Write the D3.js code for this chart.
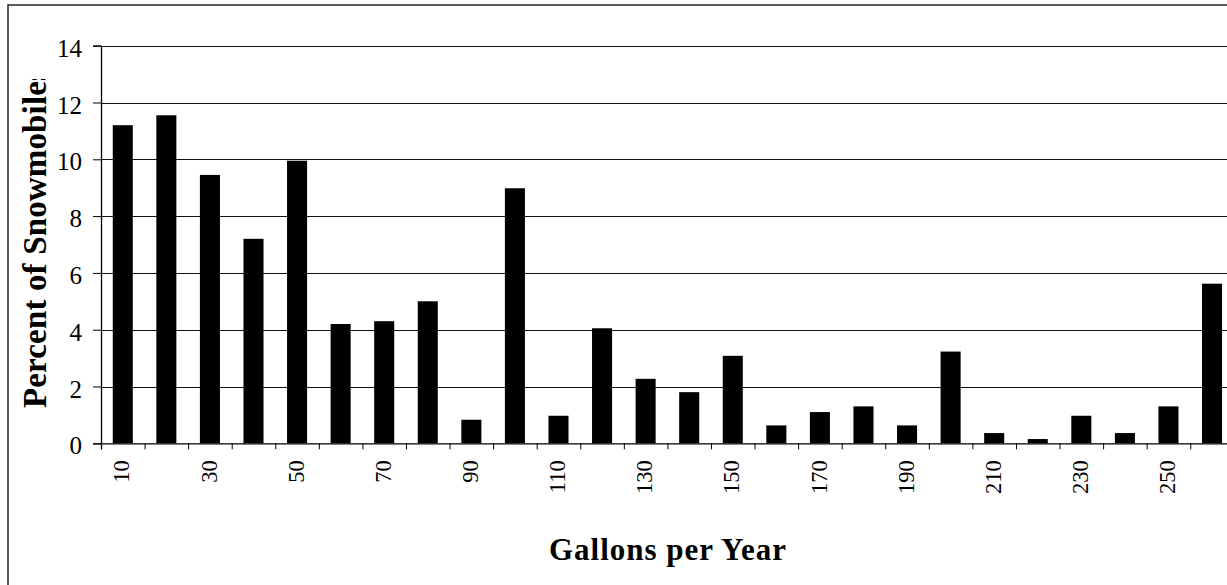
<!DOCTYPE html>
<html>
<head>
<meta charset="utf-8">
<script src="https://cdn.jsdelivr.net/npm/d3@7"></script>
<style>
  body { margin: 0; background: #fff; }
  svg { display: block; font-family: "Liberation Serif", "Times New Roman", serif; }
</style>
</head>
<body>
<svg width="1227" height="585"></svg>
<script>
const categories = [10, 20, 30, 40, 50, 60, 70, 80, 90, 100, 110, 120, 130,
                    140, 150, 160, 170, 180, 190, 200, 210, 220, 230, 240, 250, 260];
const percents = [11.2, 11.55, 9.45, 7.2, 9.95, 4.2, 4.3, 5.0, 0.83, 8.98, 0.97, 4.05, 2.27,
                  1.8, 3.08, 0.63, 1.1, 1.3, 0.63, 3.23, 0.36, 0.15, 0.97, 0.36, 1.3, 5.62];
const yTicks = [0, 2, 4, 6, 8, 10, 12, 14];
const xLabels = categories.filter((d, i) => i % 2 === 0);

const svg = d3.select("svg");
const serif = "'Liberation Serif', 'Times New Roman', serif";
const plotLeft = 101, plotTop = 45.7, plotBottom = 443.3, step = 43.57;
const plotRight = plotLeft + step * categories.length;

// outer chart border (runs past the window on the right and bottom)
svg.append("rect")
    .attr("x", 8).attr("y", 5)
    .attr("width", 1240).attr("height", 600)
    .attr("fill", "none")
    .attr("stroke", "#333")
    .attr("stroke-width", 1.6);

const x = d3.scaleBand()
    .domain(categories)
    .range([plotLeft, plotRight])
    .paddingInner(0.54)
    .paddingOuter(0.27);

const xTick = d3.scaleLinear()
    .domain([0, categories.length])
    .range([plotLeft, plotRight]);

const y = d3.scaleLinear()
    .domain([0, 14])
    .range([plotBottom, plotTop]);

// gridlines
svg.append("g")
    .selectAll("line")
    .data(yTicks.filter(d => d > 0))
    .join("line")
    .attr("x1", plotLeft).attr("x2", plotRight)
    .attr("y1", d => Math.round(y(d)) + 0.5)
    .attr("y2", d => Math.round(y(d)) + 0.5)
    .attr("stroke", "#111")
    .attr("stroke-width", 1);

// bars
svg.append("g")
    .selectAll("rect")
    .data(percents)
    .join("rect")
    .attr("x", (d, i) => x(categories[i]))
    .attr("y", d => y(d))
    .attr("width", x.bandwidth())
    .attr("height", d => plotBottom - y(d))
    .attr("fill", "#000");

// y axis
const yAxis = svg.append("g")
    .attr("transform", `translate(${plotLeft},0)`)
    .call(d3.axisLeft(y).tickValues(yTicks).tickSize(8).tickPadding(11).tickFormat(d3.format("d")))
    .attr("font-family", serif);
yAxis.select(".domain").attr("stroke", "#000").attr("stroke-width", 1.3);
yAxis.selectAll(".tick line").attr("stroke", "#000");
yAxis.selectAll("text")
    .attr("font-size", 25)
    .attr("fill", "#000")
    .attr("dy", "0.42em");

// x axis: ticks between categories
const xAxis = svg.append("g")
    .attr("transform", `translate(0,${plotBottom})`)
    .call(d3.axisBottom(xTick).tickValues(d3.range(0, categories.length + 1)).tickSize(6).tickFormat(""));
xAxis.select(".domain").attr("stroke", "#000").attr("stroke-width", 1.3);
xAxis.selectAll(".tick line").attr("stroke", "#000");

// x labels, every other category, rotated
svg.append("g")
    .selectAll("text")
    .data(xLabels)
    .join("text")
    .attr("transform", d => `translate(${x(d) + x.bandwidth() / 2 - 1},${plotBottom + 17}) rotate(-90)`)
    .attr("text-anchor", "end")
    .attr("dy", "0.34em")
    .attr("font-size", 22.5)
    .attr("fill", "#000")
    .text(d => d);

// axis titles
svg.append("text")
    .attr("x", 668).attr("y", 560)
    .attr("text-anchor", "middle")
    .attr("font-size", 31)
    .attr("font-weight", "bold")
    .attr("letter-spacing", 1)
    .text("Gallons per Year");

svg.append("clipPath").attr("id", "ytitle-clip")
    .append("rect").attr("x", 0).attr("y", 79).attr("width", 100).attr("height", 400);

svg.append("g")
    .attr("clip-path", "url(#ytitle-clip)")
    .append("text")
    .attr("transform", "translate(46,408) rotate(-90)")
    .attr("text-anchor", "start")
    .attr("font-size", 33)
    .attr("letter-spacing", 0.15)
    .attr("font-weight", "bold")
    .text("Percent of Snowmobiles");
</script>
</body>
</html>
